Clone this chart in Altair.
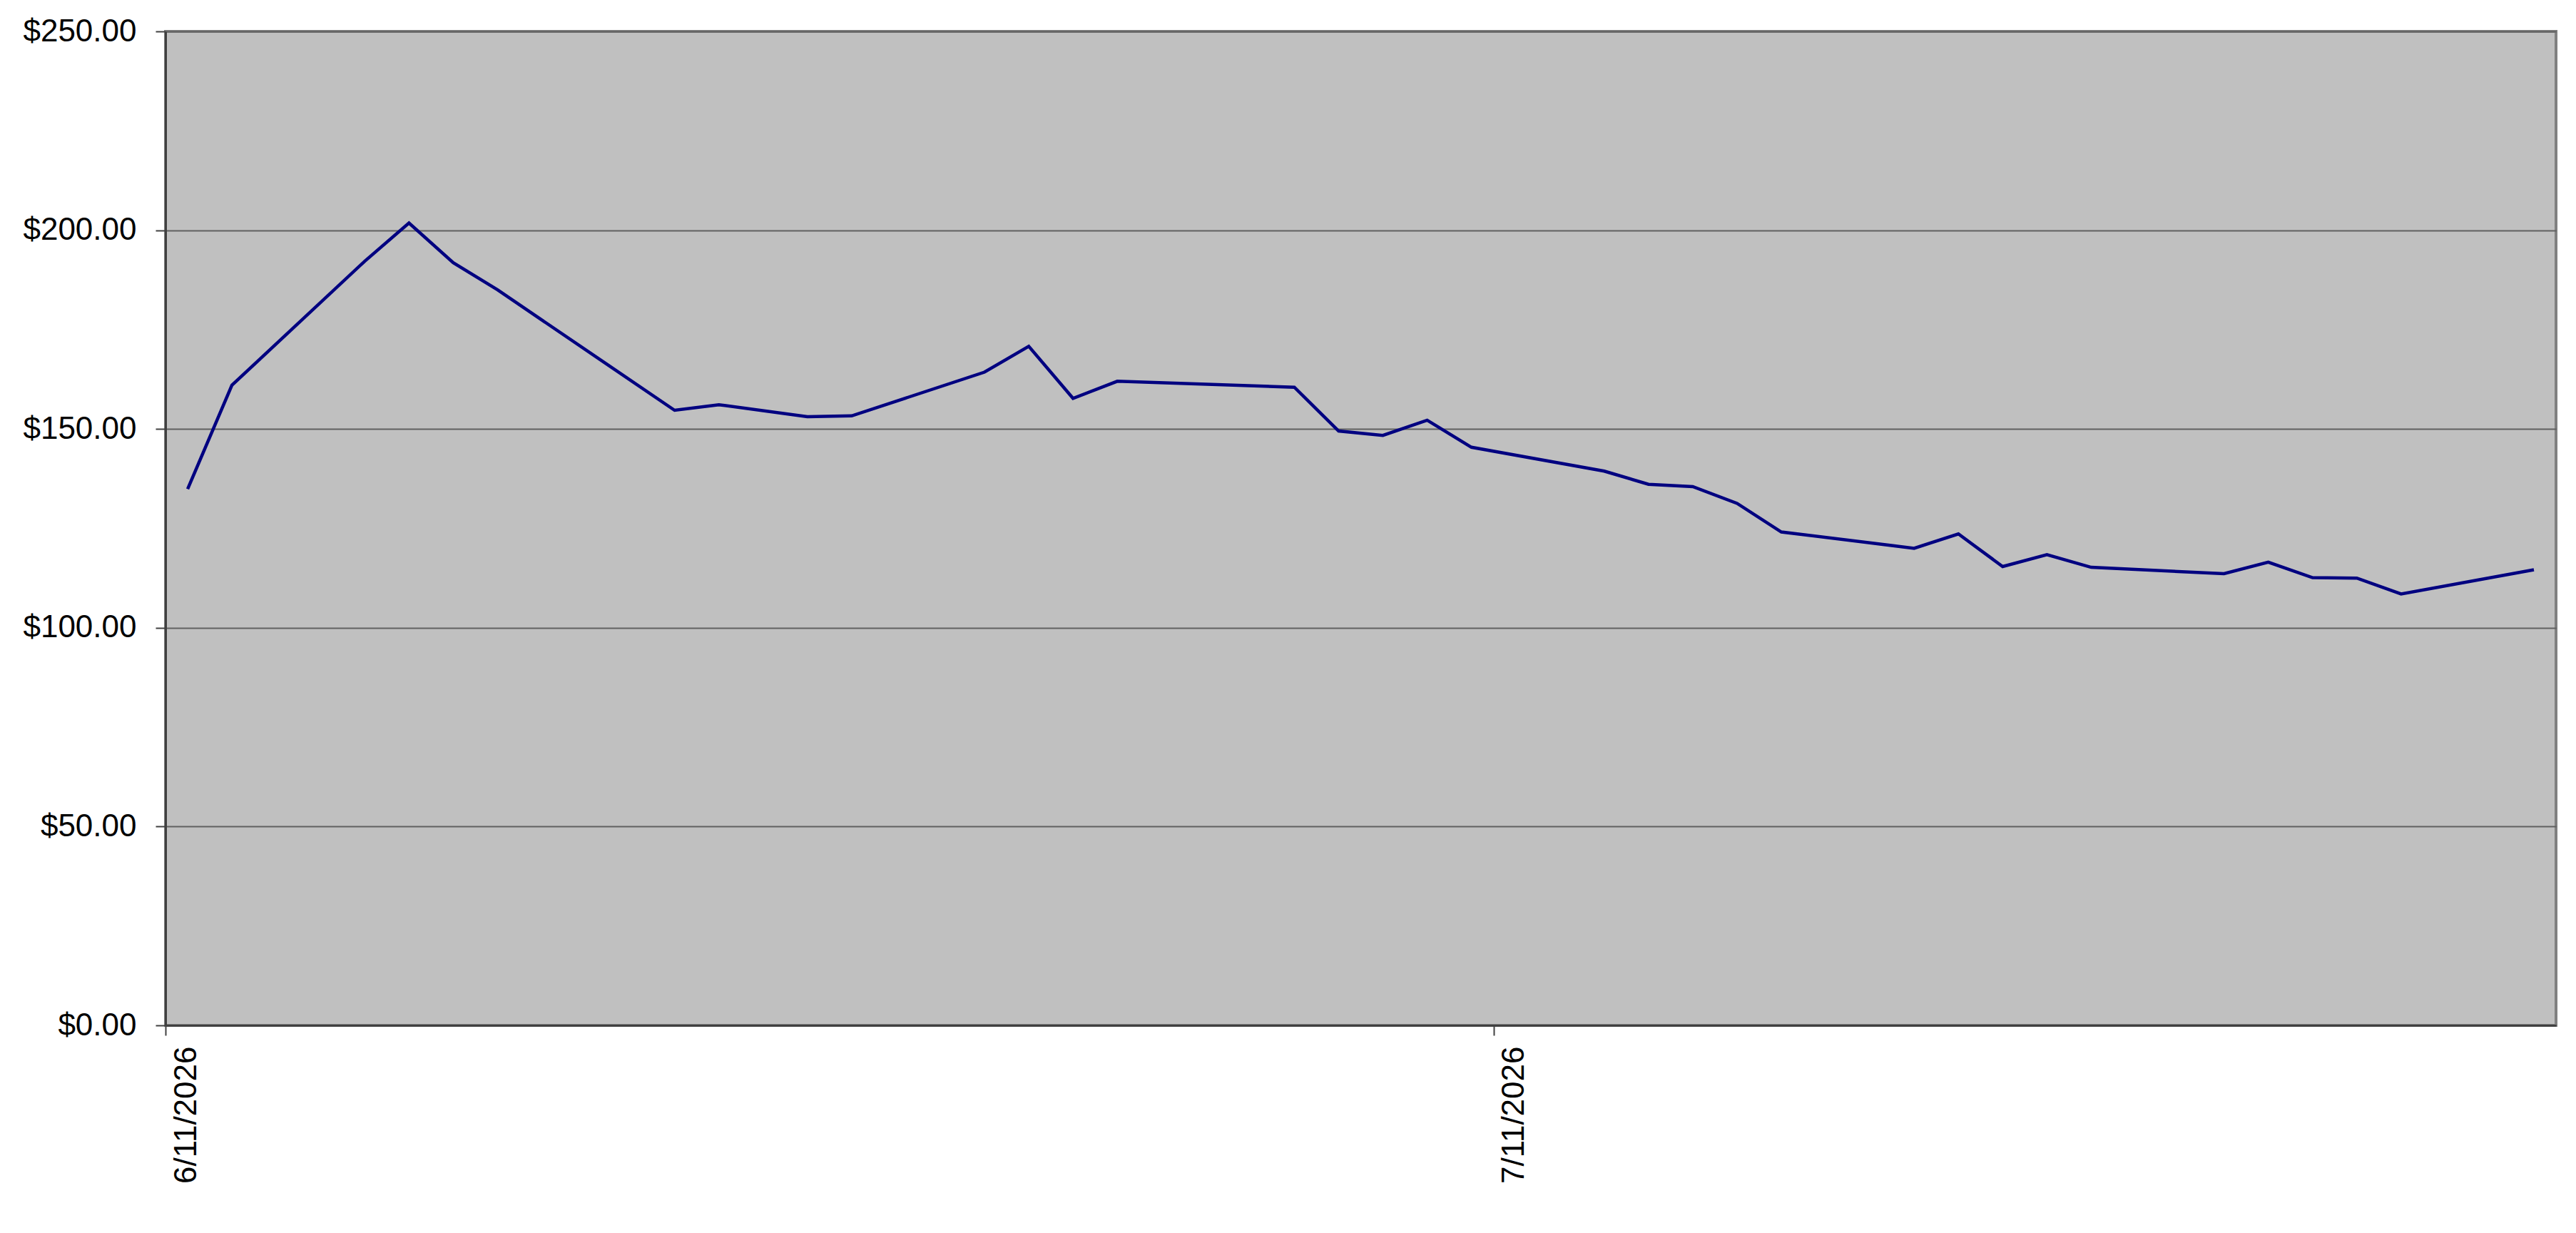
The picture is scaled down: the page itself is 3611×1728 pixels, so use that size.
import altair as alt
import pandas as pd

# Trading dates (2026) and closing prices
dates = [
    "2026-06-11", "2026-06-12", "2026-06-15", "2026-06-16", "2026-06-17",
    "2026-06-18", "2026-06-22", "2026-06-23", "2026-06-25", "2026-06-26",
    "2026-06-29", "2026-06-30", "2026-07-01", "2026-07-02", "2026-07-06",
    "2026-07-07", "2026-07-08", "2026-07-09", "2026-07-10", "2026-07-13",
    "2026-07-14", "2026-07-15", "2026-07-16", "2026-07-17", "2026-07-20",
    "2026-07-21", "2026-07-22", "2026-07-23", "2026-07-24", "2026-07-27",
    "2026-07-28", "2026-07-29", "2026-07-30", "2026-07-31", "2026-08-03",
]
prices = [
    134.9, 161.0, 192.2, 201.8, 191.8,
    185.0, 154.7, 156.1, 153.1, 153.3,
    164.3, 170.8, 157.7, 162.0, 160.5,
    149.5, 148.4, 152.2, 145.4, 139.4,
    136.1, 135.5, 131.3, 124.1, 120.0,
    123.6, 115.4, 118.4, 115.2, 113.6,
    116.5, 112.6, 112.5, 108.5, 114.6,
]
y_ticks = [0, 50, 100, 150, 200, 250]

# each point sits in the middle of its day, as on an Excel date axis
df = pd.DataFrame({"date": [d + "T12:00:00" for d in dates], "price": prices})

x_domain = [alt.DateTime(year=2026, month=6, date=11),
            alt.DateTime(year=2026, month=8, date=4)]
x_ticks = [alt.DateTime(year=2026, month=6, date=11),
           alt.DateTime(year=2026, month=7, date=11)]

font = "Liberation Sans"

chart = (
    alt.Chart(df)
    .mark_line(color="#000080", strokeWidth=4.5)
    .encode(
        x=alt.X(
            "date:T",
            title=None,
            scale=alt.Scale(domain=x_domain, nice=False),
            axis=alt.Axis(
                values=x_ticks,
                format="%-m/%-d/%Y",
                labelAngle=-90,
                labelAlign="right",
                labelBaseline="middle",
                labelOffset=29,
                labelPadding=15,
                labelLimit=1000,
                tickSize=14,
                grid=False,
                labelFont=font,
                labelFontSize=44,
                labelColor="#000000",
                domainColor="#404040",
                domainWidth=3,
                tickColor="#404040",
                tickWidth=2,
                labelOverlap=False,
            ),
        ),
        y=alt.Y(
            "price:Q",
            title=None,
            scale=alt.Scale(domain=[0, 250], nice=False, zero=True),
            axis=alt.Axis(
                values=y_ticks,
                format="$.2f",
                labelPadding=27,
                labelLimit=1000,
                tickSize=14,
                grid=True,
                gridColor="#606060",
                gridWidth=2,
                labelFont=font,
                labelFontSize=44,
                labelColor="#000000",
                domainColor="#404040",
                domainWidth=3,
                tickColor="#404040",
                tickWidth=2,
            ),
        ),
    )
    .properties(
        width=3351,
        height=1393,
        autosize=alt.AutoSizeParams(type="none"),
        padding={"left": 224, "top": 36, "right": 20, "bottom": 260},
        background="#FFFFFF",
    )
    .configure_view(fill="#C0C0C0", stroke="#808080", strokeWidth=4)
)

chart.save("out.html", embed_options={"renderer": "svg", "actions": False})
